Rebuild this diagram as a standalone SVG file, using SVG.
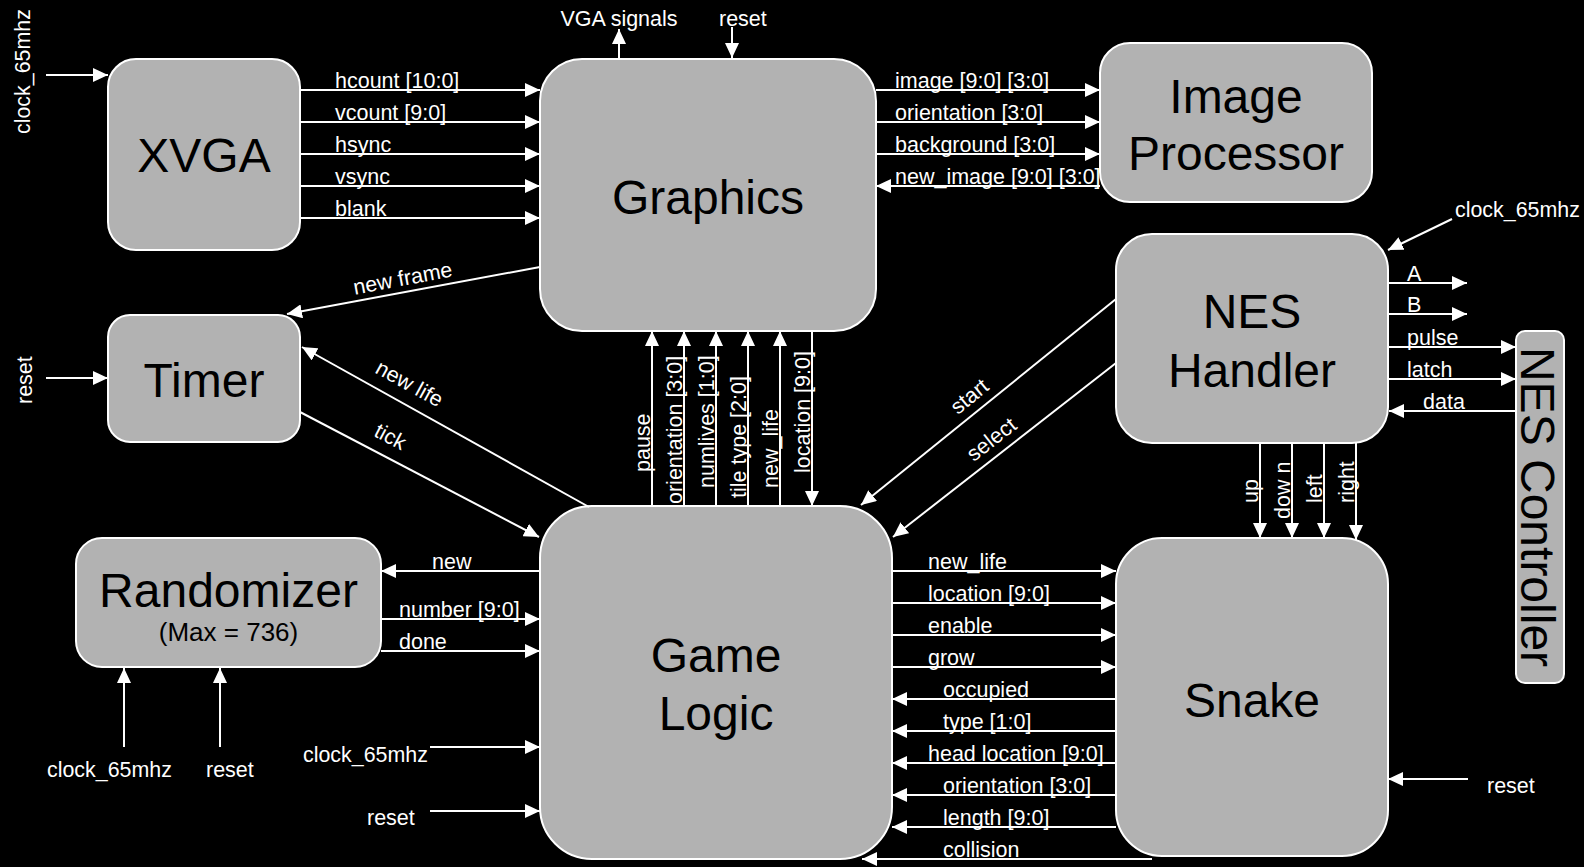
<svg xmlns="http://www.w3.org/2000/svg" width="1584" height="867" viewBox="0 0 1584 867">
<defs>
<marker id="ah" markerUnits="userSpaceOnUse" markerWidth="15" markerHeight="14" refX="15" refY="7" orient="auto">
<path d="M0,0 L15,7 L0,14 z" fill="#fff"/>
</marker>
<style>
.box{fill:#b2b2b2;stroke:#fff;stroke-width:2}
.title{font-family:"Liberation Sans",Arial,sans-serif;font-size:48px;fill:#000;text-anchor:middle}
.sub{font-family:"Liberation Sans",Arial,sans-serif;font-size:26px;fill:#000;text-anchor:middle}
.lbl{font-family:"Liberation Sans",Arial,sans-serif;font-size:21.5px;fill:#fff}
.clk{font-size:21.4px}
.mid{text-anchor:middle}
.w{stroke:#fff;stroke-width:2;fill:none;marker-end:url(#ah)}
</style>
</defs>
<rect x="0" y="0" width="1584" height="867" fill="#000"/>

<g id="xvga">
<rect class="box" x="108" y="59" width="192" height="191" rx="28"/>
<text class="title" x="204" y="172">XVGA</text>
</g>
<g id="graphics">
<rect class="box" x="540" y="59" width="336" height="272" rx="42"/>
<text class="title" x="708" y="214">Graphics</text>
</g>
<g id="image-processor">
<rect class="box" x="1100" y="43" width="272" height="159" rx="30"/>
<text class="title" x="1236" y="113">Image</text>
<text class="title" x="1236" y="170">Processor</text>
</g>
<g id="nes-handler">
<rect class="box" x="1116" y="234" width="272" height="209" rx="36"/>
<text class="title" x="1252" y="328">NES</text>
<text class="title" x="1252" y="387">Handler</text>
</g>
<g id="nes-controller">
<rect class="box" x="1516" y="331" width="48" height="352" rx="9"/>
<text class="title" transform="translate(1521,507) rotate(90)">NES Controller</text>
</g>
<g id="timer">
<rect class="box" x="108" y="315" width="192" height="127" rx="22"/>
<text class="title" x="204" y="397">Timer</text>
</g>
<g id="randomizer">
<rect class="box" x="76" y="538" width="305" height="129" rx="26"/>
<text class="title" x="228.5" y="607">Randomizer</text>
<text class="sub" x="228.5" y="641">(Max = 736)</text>
</g>
<g id="game-logic">
<rect class="box" x="540" y="506" width="352" height="353" rx="52"/>
<text class="title" x="716" y="672">Game</text>
<text class="title" x="716" y="730">Logic</text>
</g>
<g id="snake">
<rect class="box" x="1116" y="538" width="272" height="318" rx="46"/>
<text class="title" x="1252" y="717">Snake</text>
</g>

<g id="connectors">
<!-- XVGA inputs/outputs -->
<line class="w" x1="46" y1="75" x2="108" y2="75"/>
<text class="lbl clk" transform="translate(30,134) rotate(-90)">clock_65mhz</text>
<line class="w" x1="300" y1="90" x2="540" y2="90"/>
<line class="w" x1="300" y1="122" x2="540" y2="122"/>
<line class="w" x1="300" y1="154" x2="540" y2="154"/>
<line class="w" x1="300" y1="186" x2="540" y2="186"/>
<line class="w" x1="300" y1="218" x2="540" y2="218"/>
<text class="lbl" x="335" y="88">hcount [10:0]</text>
<text class="lbl" x="335" y="120">vcount [9:0]</text>
<text class="lbl" x="335" y="152">hsync</text>
<text class="lbl" x="335" y="184">vsync</text>
<text class="lbl" x="335" y="216">blank</text>

<!-- Graphics top -->
<line class="w" x1="619" y1="59" x2="619" y2="29"/>
<text class="lbl mid" x="619" y="26">VGA signals</text>
<line class="w" x1="732" y1="27" x2="732" y2="58"/>
<text class="lbl" x="719" y="26">reset</text>

<!-- Graphics <-> Image Processor -->
<line class="w" x1="876" y1="90" x2="1100" y2="90"/>
<line class="w" x1="876" y1="122" x2="1100" y2="122"/>
<line class="w" x1="876" y1="154" x2="1100" y2="154"/>
<line class="w" x1="1100" y1="186" x2="876" y2="186"/>
<text class="lbl" x="895" y="88">image [9:0] [3:0]</text>
<text class="lbl" x="895" y="120">orientation [3:0]</text>
<text class="lbl" x="895" y="152">background [3:0]</text>
<text class="lbl" x="895" y="184">new_image [9:0] [3:0]</text>

<!-- Timer -->
<line class="w" x1="46" y1="378" x2="108" y2="378"/>
<text class="lbl" transform="translate(32,404) rotate(-90)">reset</text>
<line class="w" x1="540" y1="267" x2="287" y2="314"/>
<text class="lbl mid" transform="translate(404,285.5) rotate(-10.5)">new frame</text>
<line class="w" x1="589" y1="507" x2="302" y2="347"/>
<text class="lbl mid" transform="translate(406,390) rotate(29)">new life</text>
<line class="w" x1="300" y1="412" x2="539" y2="537"/>
<text class="lbl mid" transform="translate(387,443) rotate(28)">tick</text>

<!-- Game Logic -> Graphics -->
<line class="w" x1="652" y1="506" x2="652" y2="331"/>
<line class="w" x1="684" y1="506" x2="684" y2="331"/>
<line class="w" x1="716" y1="506" x2="716" y2="331"/>
<line class="w" x1="748" y1="506" x2="748" y2="331"/>
<line class="w" x1="780" y1="506" x2="780" y2="331"/>
<line class="w" x1="812" y1="331" x2="812" y2="506"/>
<text class="lbl" transform="translate(650,472) rotate(-90)">pause</text>
<text class="lbl" transform="translate(682,504) rotate(-90)">orientation [3:0]</text>
<text class="lbl" transform="translate(714,488) rotate(-90)">numlives [1:0]</text>
<text class="lbl" transform="translate(746,498) rotate(-90)">tile type [2:0]</text>
<text class="lbl" transform="translate(778,488) rotate(-90)">new_life</text>
<text class="lbl" transform="translate(810,473) rotate(-90)">location [9:0]</text>

<!-- NES Handler -> Game Logic -->
<line class="w" x1="1116" y1="299" x2="861" y2="505"/>
<text class="lbl mid" transform="translate(974,402) rotate(-38.9)">start</text>
<line class="w" x1="1116" y1="363" x2="893" y2="537"/>
<text class="lbl mid" transform="translate(996,445) rotate(-38)">select</text>

<!-- NES Handler -->
<line class="w" x1="1452" y1="219" x2="1388" y2="250"/>
<text class="lbl clk" x="1455" y="217">clock_65mhz</text>
<line class="w" x1="1389" y1="283" x2="1467" y2="283"/>
<line class="w" x1="1389" y1="314" x2="1467" y2="314"/>
<line class="w" x1="1389" y1="347" x2="1516" y2="347"/>
<line class="w" x1="1389" y1="379" x2="1516" y2="379"/>
<line class="w" x1="1516" y1="411" x2="1389" y2="411"/>
<text class="lbl" x="1407" y="281">A</text>
<text class="lbl" x="1407" y="312">B</text>
<text class="lbl" x="1407" y="345">pulse</text>
<text class="lbl" x="1407" y="377">latch</text>
<text class="lbl" x="1423" y="409">data</text>
<line class="w" x1="1260" y1="443" x2="1260" y2="538"/>
<line class="w" x1="1292" y1="443" x2="1292" y2="538"/>
<line class="w" x1="1324" y1="443" x2="1324" y2="538"/>
<line class="w" x1="1356" y1="443" x2="1356" y2="540"/>
<text class="lbl" transform="translate(1258,503) rotate(-90)">up</text>
<text class="lbl" transform="translate(1290,519) rotate(-90)">dow n</text>
<text class="lbl" transform="translate(1322,503) rotate(-90)">left</text>
<text class="lbl" transform="translate(1354,503) rotate(-90)">right</text>

<!-- Randomizer -->
<line class="w" x1="540" y1="571" x2="381" y2="571"/>
<line class="w" x1="381" y1="619" x2="540" y2="619"/>
<line class="w" x1="381" y1="651" x2="540" y2="651"/>
<text class="lbl" x="432" y="569">new</text>
<text class="lbl" x="399" y="617">number [9:0]</text>
<text class="lbl" x="399" y="649">done</text>
<line class="w" x1="124" y1="747" x2="124" y2="668"/>
<line class="w" x1="220" y1="747" x2="220" y2="668"/>
<text class="lbl clk" x="47" y="777">clock_65mhz</text>
<text class="lbl" x="206" y="777">reset</text>

<!-- Game Logic inputs -->
<line class="w" x1="430" y1="747" x2="540" y2="747"/>
<text class="lbl clk" x="303" y="762">clock_65mhz</text>
<line class="w" x1="430" y1="811" x2="540" y2="811"/>
<text class="lbl" x="367" y="825">reset</text>

<!-- Game Logic <-> Snake -->
<line class="w" x1="892" y1="571" x2="1116" y2="571"/>
<line class="w" x1="892" y1="603" x2="1116" y2="603"/>
<line class="w" x1="892" y1="635" x2="1116" y2="635"/>
<line class="w" x1="892" y1="667" x2="1116" y2="667"/>
<line class="w" x1="1116" y1="699" x2="892" y2="699"/>
<line class="w" x1="1116" y1="731" x2="892" y2="731"/>
<line class="w" x1="1116" y1="763" x2="892" y2="763"/>
<line class="w" x1="1116" y1="795" x2="892" y2="795"/>
<line class="w" x1="1116" y1="827" x2="892" y2="827"/>
<line class="w" x1="1152" y1="859" x2="862" y2="859"/>
<text class="lbl" x="928" y="569">new_life</text>
<text class="lbl" x="928" y="601">location [9:0]</text>
<text class="lbl" x="928" y="633">enable</text>
<text class="lbl" x="928" y="665">grow</text>
<text class="lbl" x="943" y="697">occupied</text>
<text class="lbl" x="943" y="729">type [1:0]</text>
<text class="lbl" x="928" y="761">head location [9:0]</text>
<text class="lbl" x="943" y="793">orientation [3:0]</text>
<text class="lbl" x="943" y="825">length [9:0]</text>
<text class="lbl" x="943" y="857">collision</text>

<!-- Snake reset -->
<line class="w" x1="1468" y1="779" x2="1388" y2="779"/>
<text class="lbl" x="1487" y="793">reset</text>
</g>
</svg>
